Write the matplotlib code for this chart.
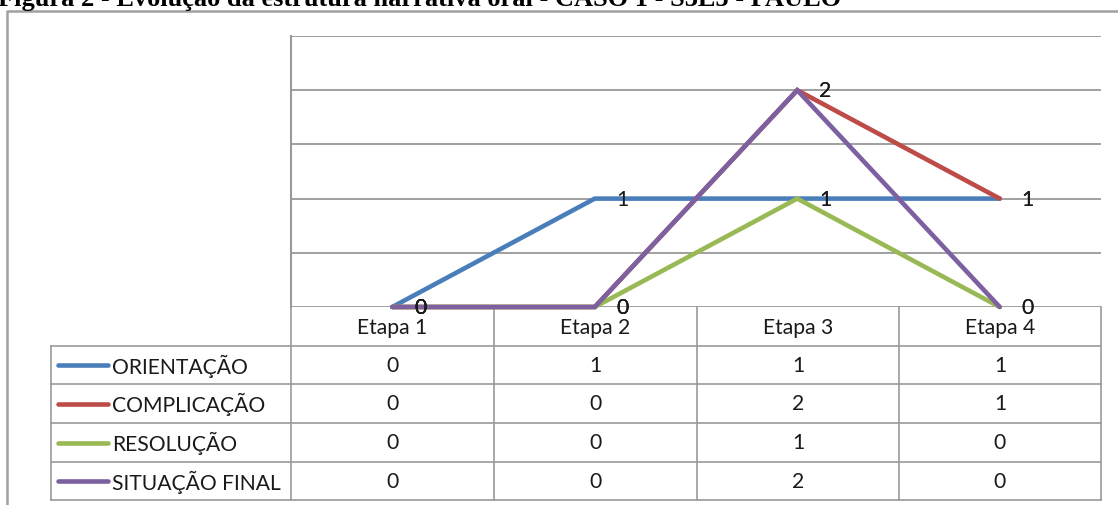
import matplotlib.pyplot as plt
from matplotlib.lines import Line2D

# Data
etapas = ['Etapa 1', 'Etapa 2', 'Etapa 3', 'Etapa 4']
series_names = ['ORIENTAÇÃO', 'COMPLICAÇÃO', 'RESOLUÇÃO', 'SITUAÇÃO FINAL']
orientacao = [0, 1, 1, 1]
complicacao = [0, 0, 2, 1]
resolucao = [0, 0, 1, 0]
situacao_final = [0, 0, 2, 0]
series_values = [orientacao, complicacao, resolucao, situacao_final]
colors = ['#4A7EBB', '#BE4B48', '#98B954', '#7D60A0']
title = 'Figura 2 - Evolução da estrutura narrativa oral - CASO 1 - S3E5 - PAULO'

W, H = 1118, 506
font = 'Lato'
fs = 15.2
grid_c = '#999999'

fig = plt.figure(figsize=(W / 100, H / 100), dpi=100)

# background layer in pixel coordinates (frame, table, title)
bg = fig.add_axes([0, 0, 1, 1])
bg.set_xlim(0, W)
bg.set_ylim(H, 0)
bg.axis('off')

# plot area
x0, x1, y_top, y_zero = 291, 1101, 37, 308
ax = fig.add_axes([x0 / W, (H - y_zero) / H, (x1 - x0) / W, (y_zero - y_top) / H])
ax.set_xlim(0.5, 4.5)
ax.set_ylim(0, 2.5)
ax.set_yticks([0, 0.5, 1, 1.5, 2, 2.5])
ax.set_xticks([])
ax.tick_params(left=False, labelleft=False)
ax.grid(axis='y', color=grid_c, linewidth=1.3)
ax.set_axisbelow(True)
for s in ['top', 'right', 'bottom']:
    ax.spines[s].set_visible(False)
ax.spines['left'].set_color(grid_c)
ax.spines['left'].set_linewidth(1.5)
ax.patch.set_alpha(0)

xs = [1, 2, 3, 4]
for vals, c in zip(series_values, colors):
    ax.plot(xs, vals, color=c, linewidth=3.3, solid_capstyle='round',
            solid_joinstyle='miter', clip_on=False)
for vals in series_values:
    for x, v in zip(xs, vals):
        ax.annotate(str(v), (x, v), xytext=(28, 0), textcoords='offset pixels',
                    ha='center', va='center', fontsize=fs, family=font,
                    color='#1a1a1a', annotation_clip=False)

# title (partly cut by the top edge)
bg.text(-2, 6, title, family='Liberation Serif', fontweight='bold',
        fontsize=19, ha='left', va='baseline', color='black')

# outer chart frame
bg.add_line(Line2D([7, 7, W], [H, 12, 12], color='#a0a0a0', linewidth=1.8))

# table
col_edges = [291, 494, 697, 899, 1101]
row_edges = [308, 347, 385, 424, 463, 501]
tab_left = 51
lw = 1.2
# header row verticals
for x in col_edges:
    bg.add_line(Line2D([x, x], [row_edges[0], row_edges[-1]], color=grid_c, linewidth=lw))
bg.add_line(Line2D([tab_left, tab_left], [row_edges[1], row_edges[-1]], color=grid_c, linewidth=lw))
for y in row_edges[1:]:
    bg.add_line(Line2D([tab_left, col_edges[-1]], [y, y], color=grid_c, linewidth=lw))

for i, name in enumerate(etapas):
    cx = (col_edges[i] + col_edges[i + 1]) / 2
    bg.text(cx, (row_edges[0] + row_edges[1]) / 2, name, ha='center', va='center',
            fontsize=fs, family=font, color='#1a1a1a')

for r, (name, vals, c) in enumerate(zip(series_names, series_values, colors)):
    cy = (row_edges[r + 1] + row_edges[r + 2]) / 2
    bg.add_line(Line2D([58, 108], [cy, cy], color=c, linewidth=3.3, solid_capstyle='round'))
    bg.text(112, cy, name, ha='left', va='center', fontsize=fs, family=font, color='#1a1a1a')
    for i, v in enumerate(vals):
        cx = (col_edges[i] + col_edges[i + 1]) / 2
        bg.text(cx, cy, str(v), ha='center', va='center', fontsize=fs, family=font,
                color='#1a1a1a')

fig.savefig('out.png', dpi=100)
